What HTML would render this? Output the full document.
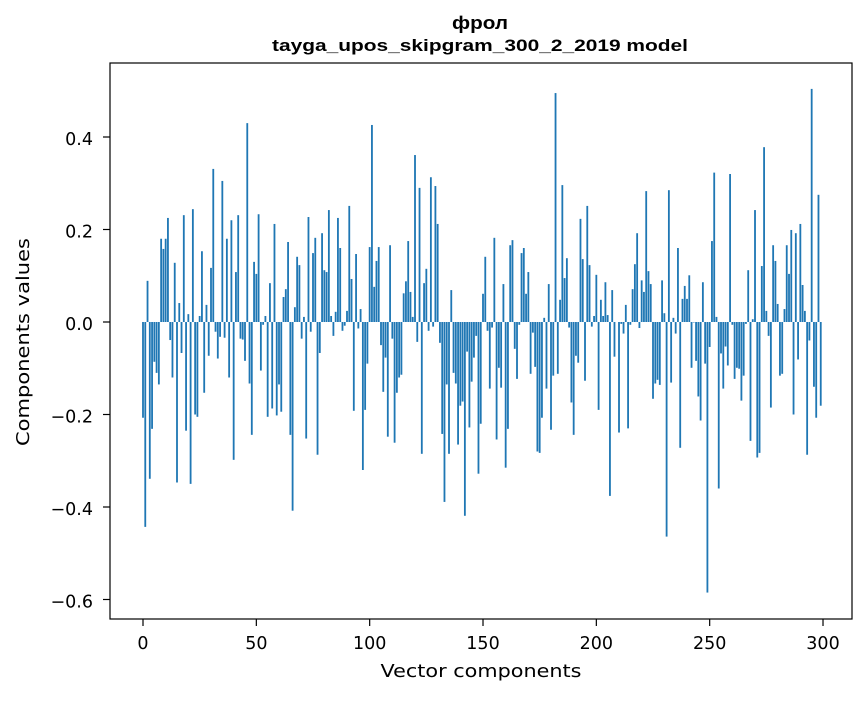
<!DOCTYPE html>
<html><head><meta charset="utf-8">
<style>
html,body{margin:0;padding:0;background:#fff;}
svg text{font-family:"DejaVu Sans","Liberation Sans",sans-serif;fill:#000;}
svg text.ttl{font-family:"Liberation Sans","DejaVu Sans",sans-serif;}
</style></head>
<body>
<svg id="chart" width="867" height="696" viewBox="0 0 867 696" xmlns="http://www.w3.org/2000/svg">
<rect x="0" y="0" width="867" height="696" fill="#fff"/>
<text class="ttl" x="480" y="29" text-anchor="middle" font-size="18" font-weight="bold" textLength="56" lengthAdjust="spacingAndGlyphs">фрол</text>
<text class="ttl" x="480" y="51" text-anchor="middle" font-size="17" font-weight="bold" textLength="416" lengthAdjust="spacingAndGlyphs">tayga_upos_skipgram_300_2_2019 model</text>
<g id="bars"></g>
<g id="xticks"></g>
<g id="yticks"></g>
<rect x="110" y="63" width="742" height="556" fill="none" stroke="#000" stroke-width="1.2"/>
<text x="481" y="677" text-anchor="middle" font-size="18" textLength="201" lengthAdjust="spacingAndGlyphs">Vector components</text>
<text x="0" y="0" transform="translate(29,342) rotate(-90)" text-anchor="middle" font-size="18" textLength="208" lengthAdjust="spacingAndGlyphs">Components values</text>
</svg>
<script>
const values = [
-0.207,-0.443,0.089,-0.339,-0.231,-0.086,-0.11,-0.135,0.18,0.158,
0.18,0.225,-0.039,-0.12,0.128,-0.347,0.041,-0.067,0.231,-0.235,
0.017,-0.35,0.244,-0.2,-0.205,0.013,0.153,-0.153,0.037,-0.073,
0.117,0.331,-0.021,-0.079,-0.032,0.305,-0.034,0.18,-0.12,0.22,
-0.298,0.108,0.231,-0.036,-0.038,-0.084,0.43,-0.133,-0.244,0.13,
0.104,0.233,-0.105,-0.006,0.013,-0.205,0.084,-0.187,0.212,-0.202,
-0.135,-0.194,0.054,0.071,0.173,-0.244,-0.408,0.032,0.141,0.123,
-0.036,0.011,-0.252,0.227,-0.021,0.149,0.182,-0.287,-0.067,0.192,
0.112,0.108,0.242,0.013,-0.03,0.022,0.225,0.16,-0.019,-0.008,
0.024,0.251,0.093,-0.192,0.147,-0.014,0.028,-0.32,-0.19,-0.09,
0.162,0.426,0.076,0.132,0.162,-0.05,-0.151,-0.077,-0.248,0.166,
-0.036,-0.261,-0.153,-0.12,-0.114,0.062,0.088,0.175,0.065,0.011,
0.361,-0.043,0.29,-0.285,0.084,0.115,-0.019,0.313,-0.01,0.294,
0.212,-0.045,-0.242,-0.389,-0.135,-0.285,0.069,-0.11,-0.133,-0.265,
-0.181,-0.172,-0.419,-0.064,-0.228,-0.129,-0.077,-0.03,-0.328,-0.22,
0.061,0.141,-0.019,-0.144,-0.012,0.182,-0.254,-0.099,-0.142,0.082,
-0.315,-0.231,0.166,0.177,-0.058,-0.123,-0.006,0.149,0.16,0.061,
0.108,-0.112,-0.023,-0.097,-0.28,-0.283,-0.207,0.009,-0.144,0.082,
-0.233,-0.116,0.495,-0.112,0.048,0.296,0.095,0.138,-0.012,-0.174,
-0.244,-0.073,-0.088,0.223,0.136,-0.127,0.251,0.123,-0.01,0.013,
0.102,-0.19,0.048,0.013,0.086,0.015,-0.376,0.069,-0.075,0.0,
-0.239,-0.004,-0.025,0.037,-0.23,-0.006,0.071,0.125,0.192,-0.013,
0.09,0.065,0.283,0.11,0.082,-0.166,-0.133,-0.125,-0.136,0.09,
0.019,-0.464,0.285,-0.131,0.009,-0.025,0.16,-0.272,0.05,0.078,
0.05,0.101,-0.099,-0.001,-0.084,-0.161,-0.213,0.086,-0.09,-0.585,
-0.054,0.175,0.323,0.011,-0.36,-0.068,-0.144,-0.053,-0.094,0.32,
-0.006,-0.123,-0.099,-0.101,-0.17,-0.116,-0.004,0.112,-0.257,0.006,
0.242,-0.293,-0.283,0.121,0.378,0.024,-0.03,-0.185,0.166,0.132,
0.039,-0.116,-0.112,0.028,0.166,0.104,0.199,-0.2,0.192,-0.081,
0.212,0.08,0.024,-0.287,-0.04,0.504,-0.14,-0.207,0.275,-0.181
];
const xTickValues = [0,50,100,150,200,250,300];
const yTickValues = [-0.6,-0.4,-0.2,0.0,0.2,0.4];
const yTickLabels = ["\u22120.6","\u22120.4","\u22120.2","0.0","0.2","0.4"];

const NS = "http://www.w3.org/2000/svg";
function xScale(v){ return 143 + v * 2.2667; }
function yScale(v){ return 322 - v * 462.5; }
const barW = 0.8 * 2.2667;

const gb = document.getElementById('bars');
values.forEach(function(v, i){
  const r = document.createElementNS(NS, 'rect');
  const y0 = yScale(0), y1 = yScale(v);
  r.setAttribute('x', xScale(i) - barW/2);
  r.setAttribute('y', Math.min(y0, y1));
  r.setAttribute('width', barW);
  r.setAttribute('height', Math.abs(y1 - y0));
  r.setAttribute('fill', '#1f77b4');
  
  
  gb.appendChild(r);
});

const gx = document.getElementById('xticks');
xTickValues.forEach(function(t){
  const x = xScale(t);
  const l = document.createElementNS(NS, 'line');
  l.setAttribute('x1', x); l.setAttribute('x2', x);
  l.setAttribute('y1', 619); l.setAttribute('y2', 626);
  l.setAttribute('stroke', '#000'); l.setAttribute('stroke-width', '1.2');
  
  
  gx.appendChild(l);
  const tx = document.createElementNS(NS, 'text');
  tx.setAttribute('x', x); tx.setAttribute('y', 649);
  tx.setAttribute('text-anchor', 'middle'); tx.setAttribute('font-size', '17.5');
  tx.textContent = String(t);
  
  
  gx.appendChild(tx);
});

const gy = document.getElementById('yticks');
yTickValues.forEach(function(t, k){
  const y = yScale(t);
  const l = document.createElementNS(NS, 'line');
  l.setAttribute('x1', 103); l.setAttribute('x2', 110);
  l.setAttribute('y1', y); l.setAttribute('y2', y);
  l.setAttribute('stroke', '#000'); l.setAttribute('stroke-width', '1.2');
  
  
  gy.appendChild(l);
  const tx = document.createElementNS(NS, 'text');
  tx.setAttribute('x', 93); tx.setAttribute('y', y + 8);
  tx.setAttribute('text-anchor', 'end'); tx.setAttribute('font-size', '17.5');
  tx.textContent = yTickLabels[k];
  
  
  gy.appendChild(tx);
});
</script>
</body></html>
